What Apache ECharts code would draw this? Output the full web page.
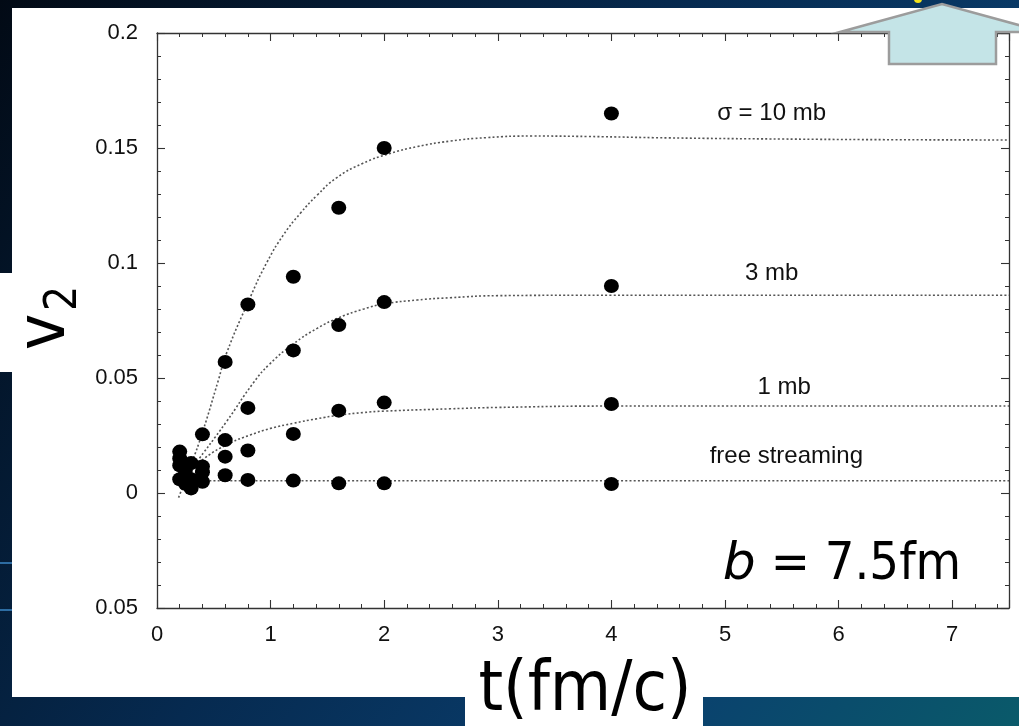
<!DOCTYPE html>
<html>
<head>
<meta charset="utf-8">
<script src="https://cdn.jsdelivr.net/npm/echarts@6/dist/echarts.min.js"></script>
<style>
  html, body { margin: 0; padding: 0; background: #041427; }
  #chart { width: 1019px; height: 726px; }
</style>
</head>
<body>
<div id="chart"></div>
<script>
// Elliptic flow v2 versus time for several parton cross sections (b = 7.5 fm)

// Times at which the transport results are shown (fm/c)
const tPoints = [0.2, 0.25, 0.3, 0.4, 0.6, 0.8, 1.2, 1.6, 2.0, 4.0];

// v2 values of the simulation points
const v2_10mb = [0.018, 0.010, 0.013, 0.0255, 0.057, 0.082, 0.094, 0.124, 0.150, 0.165];
const v2_3mb  = [0.015, 0.008, 0.006, 0.0115, 0.023, 0.037, 0.062, 0.073, 0.083, 0.090];
const v2_1mb  = [0.012, 0.006, 0.004, 0.009, 0.0158, 0.0185, 0.0257, 0.0358, 0.0393, 0.0387];
const v2_free = [0.006, 0.004, 0.002, 0.0049, 0.0077, 0.0057, 0.0054, 0.0042, 0.0042, 0.0039];

// Dotted guide curves (t, v2) for each cross section
const fit10_t = [0.19, 0.3, 0.4, 0.54, 0.61, 0.82, 0.97, 1.11, 1.26, 1.41, 1.58, 1.81, 2.05, 2.29, 2.58, 2.9, 3.3, 3.8, 4.5, 5.5, 6.5, 7.5];
const fit10_v = [-0.002, 0.0123, 0.0263, 0.049, 0.0605, 0.0850, 0.1005, 0.1120, 0.1215, 0.1295, 0.1370, 0.1433, 0.1476, 0.1506, 0.1530, 0.1545, 0.1552, 0.1550, 0.1544, 0.1539, 0.1536, 0.1535];
const fit3_t  = [0.25, 0.32, 0.61, 0.85, 0.99, 1.2, 1.41, 1.6, 1.82, 2.0, 2.29, 2.58, 3.0, 4.0, 5.0, 6.0, 7.5];
const fit3_v  = [0.006, 0.0114, 0.0309, 0.0480, 0.0560, 0.0648, 0.0716, 0.0762, 0.0800, 0.0822, 0.0839, 0.0849, 0.0858, 0.086, 0.086, 0.086, 0.086];
const fit1_t  = [0.29, 0.42, 0.64, 0.82, 1.0, 1.2, 1.41, 1.6, 1.82, 2.0, 2.58, 3.0, 4.0, 5.0, 6.0, 7.5];
const fit1_v  = [0.0091, 0.0152, 0.0216, 0.0252, 0.0281, 0.0303, 0.0323, 0.0338, 0.0350, 0.0356, 0.0366, 0.0372, 0.0378, 0.0378, 0.0378, 0.0378];
const fitFree_t = [0.35, 7.5];
const fitFree_v = [0.0053, 0.0053];

// Curve annotations placed in data coordinates
const labelText = ['σ = 10 mb', '3 mb', '1 mb', 'free streaming'];
const labelT    = [5.41, 5.41, 5.52, 5.54];
const labelV    = [0.1652, 0.0957, 0.0461, 0.0160];

// Axis tick labels
const xTickLabels = ['0', '1', '2', '3', '4', '5', '6', '7'];
const yTickLabels = ['0.05', '0', '0.05', '0.1', '0.15', '0.2'];

const pairs = (xs, ys) => xs.map((x, i) => [x, ys[i]]);

const chart = echarts.init(document.getElementById('chart'), null, { renderer: 'canvas' });

const tickFont = { fontFamily: 'Liberation Sans', fontSize: 22, color: '#111111' };
const slideFont = '"DejaVu Sans Condensed", "DejaVu Sans", sans-serif';
const frameColor = '#333333';

const baseX = {
  type: 'value', min: 0, max: 7.5, interval: 1,
  axisLine: { show: true, onZero: false, lineStyle: { color: frameColor, width: 1.3 } },
  axisTick: { show: true, inside: true, length: 8, lineStyle: { color: frameColor, width: 1.1 } },
  minorTick: { show: true, splitNumber: 5, length: 4, lineStyle: { color: frameColor, width: 1 } },
  splitLine: { show: false }
};
const baseY = {
  type: 'value', min: -0.05, max: 0.2, interval: 0.05,
  axisLine: { show: true, onZero: false, lineStyle: { color: frameColor, width: 1.3 } },
  axisTick: { show: true, inside: true, length: 8, lineStyle: { color: frameColor, width: 1.1 } },
  minorTick: { show: true, splitNumber: 5, length: 4, lineStyle: { color: frameColor, width: 1 } },
  splitLine: { show: false }
};

const dotted = {
  type: 'line', showSymbol: false, smooth: 0.5,
  lineStyle: { color: '#555555', width: 1.6, type: [2, 2.2] },
  silent: true, z: 2
};
const dots = {
  type: 'scatter', symbol: 'circle', symbolSize: [15, 14],
  itemStyle: { color: '#000000', opacity: 1 }, z: 3
};

const option = {
  animation: false,
  grid: { left: 157, top: 33, right: 10, bottom: 118, containLabel: false },
  xAxis: [
    Object.assign({}, baseX, {
      position: 'bottom',
      axisLabel: Object.assign({ margin: 16, formatter: (v, i) => xTickLabels[i] ?? '' }, tickFont)
    }),
    Object.assign({}, baseX, { position: 'top', axisLabel: { show: false } })
  ],
  yAxis: [
    Object.assign({}, baseY, {
      position: 'left',
      axisLabel: Object.assign({ margin: 19, formatter: (v, i) => yTickLabels[i] ?? '' }, tickFont)
    }),
    Object.assign({}, baseY, { position: 'right', axisLabel: { show: false } })
  ],
  graphic: [
    // slide background
    { type: 'rect', z: -100, shape: { x: 0, y: 0, width: 1019, height: 726 },
      style: { fill: { type: 'linear', x: 0, y: 0, x2: 1, y2: 1, colorStops: [
        { offset: 0, color: '#020a15' }, { offset: 0.45, color: '#062a50' },
        { offset: 0.75, color: '#0a3f6e' }, { offset: 1, color: '#0a5a6a' }] } } },
    // light streaks on the left edge
    { type: 'rect', z: -99, shape: { x: 0, y: 562, width: 12, height: 2 }, style: { fill: '#3f8fd0', opacity: 0.7 } },
    { type: 'rect', z: -99, shape: { x: 0, y: 609, width: 12, height: 2 }, style: { fill: '#3f8fd0', opacity: 0.7 } },
    // white panels
    { type: 'rect', z: -50, shape: { x: 12, y: 8, width: 1007, height: 689 }, style: { fill: '#ffffff' } },
    { type: 'rect', z: -50, shape: { x: 0, y: 273, width: 12, height: 99 }, style: { fill: '#ffffff' } },
    { type: 'rect', z: -50, shape: { x: 465, y: 697, width: 238, height: 29 }, style: { fill: '#ffffff' } },
    // small yellow mark at the top edge
    { type: 'circle', z: 50, shape: { cx: 918, cy: -1, r: 4 }, style: { fill: '#f2e21a' } },
    // block arrow pointing up
    { type: 'polygon', z: 60,
      shape: { points: [[840, 32], [942, 4], [1044, 32], [996, 32], [996, 64], [889, 64], [889, 32]] },
      style: { fill: '#c4e4e7', stroke: '#9c9c9c', lineWidth: 2.5 } },
    // y axis title v2
    { type: 'group', x: 46, y: 350, rotation: Math.PI / 2, z: 40, children: [
      { type: 'text', x: 0, y: 0, style: { text: 'v', font: '68px ' + slideFont, fill: '#000', align: 'left', verticalAlign: 'middle' } },
      { type: 'text', x: 39, y: 19, style: { text: '2', font: '44px ' + slideFont, fill: '#000', align: 'left', verticalAlign: 'middle' } }
    ] },
    // x axis title
    { type: 'text', z: 40, x: 585, y: 692,
      style: { text: 't(fm/c)', font: '70px ' + slideFont, fill: '#000', align: 'center', verticalAlign: 'middle' } },
    // impact parameter note
    { type: 'text', z: 40, x: 842, y: 565,
      style: { text: '{i|b} = 7.5fm', align: 'center', verticalAlign: 'middle', fill: '#000',
        font: '52px ' + slideFont,
        rich: { i: { fontStyle: 'italic', fontFamily: 'DejaVu Sans', fontSize: 52, fill: '#000' } } } }
  ],
  series: [
    Object.assign({ name: 'fit 10 mb', data: pairs(fit10_t, fit10_v) }, dotted),
    Object.assign({ name: 'fit 3 mb', data: pairs(fit3_t, fit3_v) }, dotted),
    Object.assign({ name: 'fit 1 mb', data: pairs(fit1_t, fit1_v) }, dotted),
    Object.assign({ name: 'fit free', data: pairs(fitFree_t, fitFree_v) }, dotted),
    Object.assign({ name: '10 mb', data: pairs(tPoints, v2_10mb) }, dots),
    Object.assign({ name: '3 mb', data: pairs(tPoints, v2_3mb) }, dots),
    Object.assign({ name: '1 mb', data: pairs(tPoints, v2_1mb) }, dots),
    Object.assign({ name: 'free streaming', data: pairs(tPoints, v2_free) }, dots),
    {
      name: 'labels', type: 'scatter', symbolSize: 0, silent: true, z: 4,
      itemStyle: { opacity: 1 },
      data: labelText.map((s, i) => ({ name: s, value: [labelT[i], labelV[i]] })),
      label: { show: true, position: 'inside', formatter: p => p.name,
        fontFamily: 'Liberation Sans', fontSize: 24, color: '#111111', opacity: 1 }
    }
  ]
};

chart.setOption(option);
</script>
</body>
</html>
